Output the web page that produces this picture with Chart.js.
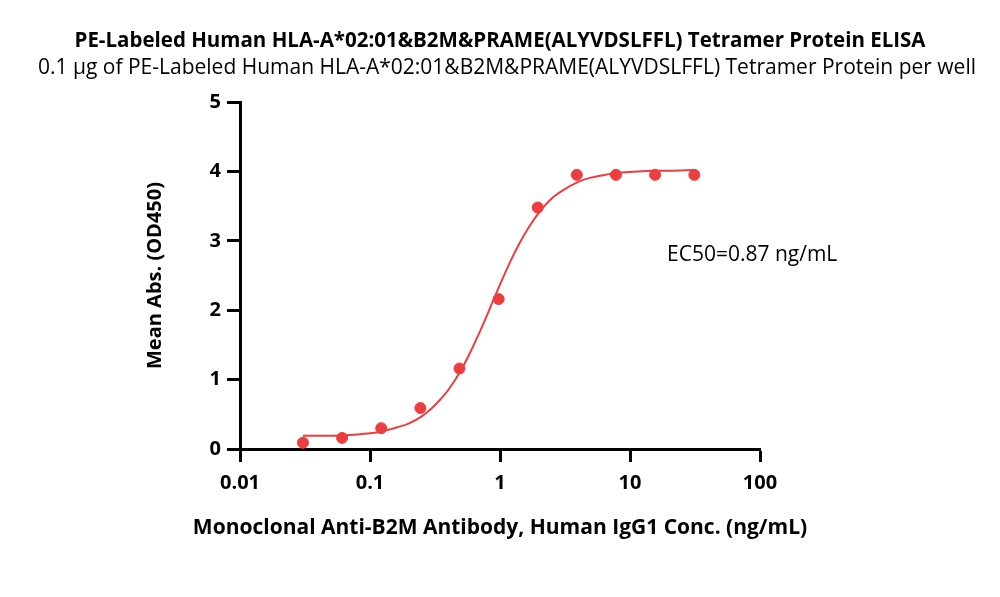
<!DOCTYPE html>
<html>
<head>
<meta charset="utf-8">
<script src="https://cdn.jsdelivr.net/npm/chart.js@4"></script>
<style>
  html, body { margin: 0; padding: 0; background: #fff; }
  #wrap { width: 1000px; height: 597px; }
</style>
</head>
<body>
<div id="wrap"><canvas id="elisa" width="1000" height="597"></canvas></div>
<script>
// ── Data ────────────────────────────────────────────────────────────────────
const concs  = [0.0305, 0.061, 0.122, 0.244, 0.488, 0.977, 1.95, 3.9, 7.8, 15.6, 31.25];
const means  = [0.09, 0.16, 0.30, 0.59, 1.16, 2.16, 3.48, 3.95, 3.95, 3.95, 3.95];

const fitX   = [0.0305, 0.05, 0.08, 0.12, 0.16, 0.2, 0.25, 0.3, 0.35, 0.4, 0.5, 0.6, 0.7, 0.8, 0.9,
                1.0, 1.2, 1.4, 1.6, 1.8, 2.0, 2.5, 3, 4, 5, 6, 8, 10, 15, 20, 31.25];
const fitY   = [0.19, 0.19, 0.21, 0.25, 0.31, 0.37, 0.47, 0.59, 0.72, 0.85, 1.13, 1.42, 1.69, 1.94, 2.17,
                2.37, 2.70, 2.95, 3.14, 3.29, 3.41, 3.61, 3.72, 3.85, 3.91, 3.94, 3.98, 3.99, 4.01, 4.01, 4.02];

const xTicks = [0.01, 0.1, 1, 10, 100];
const yTicks = [0, 1, 2, 3, 4, 5];

const TITLE    = 'PE-Labeled Human HLA-A*02:01&B2M&PRAME(ALYVDSLFFL) Tetramer Protein ELISA';
const SUBTITLE = '0.1 \u00b5g of PE-Labeled Human HLA-A*02:01&B2M&PRAME(ALYVDSLFFL) Tetramer Protein per well';
const X_TITLE  = 'Monoclonal Anti-B2M Antibody, Human IgG1 Conc. (ng/mL)';
const EC50_TXT = 'EC50=0.87 ng/mL';

const RED  = '#ee3d3f';
const FONT = '"Open Sans", Lato, sans-serif';

// ── Titles + annotation (x title drawn here so it is not squeezed to the axis width)
const textPlugin = {
  id: 'texts',
  afterDraw(chart) {
    const { ctx, scales, chartArea } = chart;
    ctx.save();
    ctx.fillStyle = '#000';
    ctx.textAlign = 'center';
    ctx.textBaseline = 'middle';
    ctx.font = `bold 20.5px ${FONT}`;
    ctx.fillText(TITLE, 500, 41);
    ctx.font = `21px ${FONT}`;
    ctx.fillText(SUBTITLE, 507, 68);
    ctx.font = `bold 21px ${FONT}`;
    ctx.fillText(X_TITLE, (chartArea.left + chartArea.right) / 2, 528);
    ctx.textAlign = 'left';
    ctx.font = `21px ${FONT}`;
    ctx.fillText(EC50_TXT, 667, scales.y.getPixelForValue(2.79));
    ctx.restore();
  }
};

const pts   = concs.map((x, i) => ({ x, y: means[i] }));
const curve = fitX.map((x, i) => ({ x, y: fitY[i] }));

new Chart(document.getElementById('elisa'), {
  type: 'scatter',
  data: {
    datasets: [
      {
        label: 'Fit',
        data: curve,
        showLine: true,
        borderColor: RED,
        borderWidth: 2,
        pointRadius: 0,
        cubicInterpolationMode: 'monotone'
      },
      {
        label: 'Mean',
        data: pts,
        backgroundColor: RED,
        borderColor: RED,
        pointRadius: 5.5,
        showLine: false
      }
    ]
  },
  options: {
    responsive: false,
    animation: false,
    devicePixelRatio: 1,
    layout: { padding: { top: 102, left: 135, right: 240, bottom: 48 } },
    plugins: { legend: { display: false }, tooltip: { enabled: false } },
    scales: {
      x: {
        type: 'logarithmic',
        min: 0.01,
        max: 100,
        afterBuildTicks: s => { s.ticks = xTicks.map(v => ({ value: v })); },
        afterFit: s => { s.height = 100; },
        grid: { drawOnChartArea: false, drawTicks: true, tickLength: 13, tickWidth: 3, tickColor: '#000' },
        border: { display: true, width: 3, color: '#000' },
        ticks: {
          color: '#000',
          padding: 9,
          maxRotation: 0,
          font: { family: FONT, size: 20, weight: 'bold' },
          callback: v => String(v)
        },
        title: { display: false }
      },
      y: {
        min: 0,
        max: 5,
        afterBuildTicks: s => { s.ticks = yTicks.map(v => ({ value: v })); },
        afterFit: s => { s.width = 105; },
        grid: { drawOnChartArea: false, drawTicks: true, tickLength: 13, tickWidth: 3, tickColor: '#000' },
        border: { display: true, width: 3, color: '#000' },
        ticks: {
          color: '#000',
          padding: 6,
          font: { family: FONT, size: 20, weight: 'bold' }
        },
        title: {
          display: true,
          text: 'Mean Abs. (OD450)',
          color: '#000',
          padding: { top: 8, bottom: 0 },
          font: { family: FONT, size: 20, weight: 'bold' }
        }
      }
    }
  },
  plugins: [textPlugin]
});
</script>
</body>
</html>
